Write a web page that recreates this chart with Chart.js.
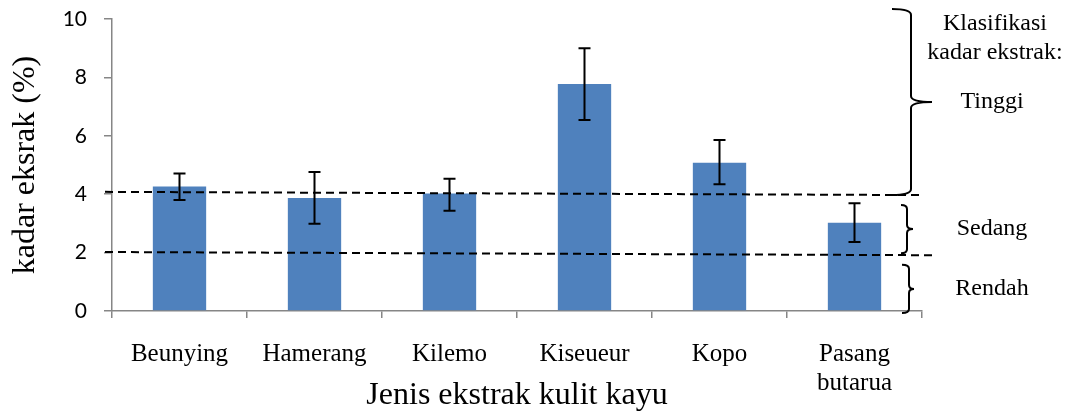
<!DOCTYPE html>
<html>
<head>
<meta charset="utf-8">
<script src="https://cdn.jsdelivr.net/npm/chart.js@4.4.0/dist/chart.umd.min.js"></script>
<style>
html,body{margin:0;padding:0;background:#fff;}
#wrap{width:1067px;height:412px;position:relative;}
</style>
</head>
<body>
<div id="wrap"><canvas id="c" width="1067" height="412"></canvas></div>
<script>
// ---- data ----
const categories = ["Beunying", "Hamerang", "Kilemo", "Kiseueur", "Kopo", ["Pasang", "butarua"]];
const values = [4.26, 3.87, 4.02, 7.77, 5.08, 3.02];
const errLow = [3.80, 2.99, 3.43, 6.54, 4.34, 2.36];
const errHigh = [4.71, 4.76, 4.53, 9.00, 5.86, 3.69];
const yTicks = [0, 2, 4, 6, 8, 10];
// threshold dashed lines: [value at left, value at right]
const thresholdHigh = [4.08, 3.97];
const thresholdLow = [2.02, 1.91];
// classification braces: [top value, bottom value]
const classNames = ["Tinggi", "Sedang", "Rendah"];
const classRanges = [[10.34, 3.97], [3.63, 1.98], [1.58, -0.07]];
const legendTitle = ["Klasifikasi", "kadar ekstrak:"];

const serif = "'Liberation Serif', 'Times New Roman', serif";

const overlay = {
  id: 'overlay',
  afterDatasetsDraw(chart) {
    const ctx = chart.ctx;
    const xs = chart.scales.x, ys = chart.scales.y;
    const meta = chart.getDatasetMeta(0);
    ctx.save();
    // error bars
    ctx.strokeStyle = '#000';
    ctx.lineWidth = 2;
    meta.data.forEach((bar, i) => {
      const x = bar.x;
      const y1 = ys.getPixelForValue(errHigh[i]);
      const y2 = ys.getPixelForValue(errLow[i]);
      ctx.beginPath();
      ctx.moveTo(x, y1); ctx.lineTo(x, y2);
      ctx.moveTo(x - 6, y1); ctx.lineTo(x + 6, y1);
      ctx.moveTo(x - 6, y2); ctx.lineTo(x + 6, y2);
      ctx.stroke();
    });
    // dashed threshold lines
    ctx.setLineDash([8, 5]);
    ctx.lineWidth = 2;
    const xl = xs.left - 7;
    [[thresholdHigh, xs.right], [thresholdLow, xs.right + 11]].forEach(([t, xr]) => {
      ctx.beginPath();
      ctx.moveTo(xl, ys.getPixelForValue(t[0]));
      ctx.lineTo(xr, ys.getPixelForValue(t[1]));
      ctx.stroke();
    });
    ctx.setLineDash([]);
    // braces
    const braceGeom = [
      {dx: -11, w: 19, tip: 21, r: 6},
      {dx: -15, w: 6, tip: 6, r: 4},
      {dx: -13, w: 7, tip: 5, r: 4}
    ];
    ctx.lineWidth = 2;
    classRanges.forEach((rg, i) => {
      const g = braceGeom[i];
      const x = xs.right + g.dx;
      const yT = ys.getPixelForValue(rg[0]);
      const yB = ys.getPixelForValue(rg[1]);
      const yM = (yT + yB) / 2;
      ctx.beginPath();
      ctx.moveTo(x - g.w, yT);
      ctx.quadraticCurveTo(x, yT, x, yT + g.r);
      ctx.lineTo(x, yM - g.r);
      ctx.quadraticCurveTo(x, yM, x + g.tip, yM);
      ctx.quadraticCurveTo(x, yM, x, yM + g.r);
      ctx.lineTo(x, yB - g.r);
      ctx.quadraticCurveTo(x, yB, x - g.w, yB);
      ctx.stroke();
      // label
      ctx.fillStyle = '#000';
      ctx.font = '24px ' + serif;
      ctx.textAlign = 'center';
      ctx.textBaseline = 'middle';
      ctx.fillText(classNames[i], xs.right + 70, yM);
    });
    ctx.font = '24px ' + serif;
    ctx.textAlign = 'center';
    ctx.textBaseline = 'middle';
    ctx.fillText(legendTitle[0], xs.right + 73, ys.top + 5);
    ctx.fillText(legendTitle[1], xs.right + 73, ys.top + 34);
    ctx.restore();
  }
};

new Chart(document.getElementById('c'), {
  type: 'bar',
  data: {
    labels: categories,
    datasets: [{
      data: values,
      backgroundColor: '#4F81BD',
      borderWidth: 0,
      categoryPercentage: 1,
      barPercentage: 0.395
    }]
  },
  options: {
    responsive: false,
    animation: false,
    events: [],
    layout: {padding: {left: 0, right: 145, top: 19, bottom: 0}},
    plugins: {legend: {display: false}, tooltip: {enabled: false}},
    scales: {
      x: {
        grid: {display: true, drawOnChartArea: false, drawTicks: true, tickLength: 7, color: '#868686', lineWidth: 1.5},
        border: {display: true, color: '#868686', width: 1.5},
        ticks: {color: '#000', font: {family: serif, size: 25, lineHeight: 1.16}, padding: 22, maxRotation: 0, autoSkip: false},
        title: {display: true, text: 'Jenis ekstrak kulit kayu', color: '#000', font: {family: serif, size: 32, lineHeight: 1.0}, padding: {top: 0, bottom: 0}},
        afterFit(s) { s.height = 101; s.paddingLeft = 0; s.paddingRight = 0; }
      },
      y: {
        min: 0, max: 10,
        afterBuildTicks(s) { s.ticks = yTicks.map(v => ({value: v})); },
        grid: {display: true, drawOnChartArea: false, drawTicks: true, tickLength: 8, color: '#868686', lineWidth: 1.5},
        border: {display: true, color: '#868686', width: 1.5},
        ticks: {color: '#000', font: {family: "Lato, 'Noto Sans', sans-serif", size: 21}, padding: 17},
        title: {display: true, text: 'kadar eksrak (%)', color: '#000', font: {family: serif, size: 32}, padding: {top: 6, bottom: 0}},
        afterFit(s) { s.width = 112; s.paddingTop = 0; s.paddingBottom = 0; }
      }
    }
  },
  plugins: [overlay]
});
</script>
</body>
</html>
